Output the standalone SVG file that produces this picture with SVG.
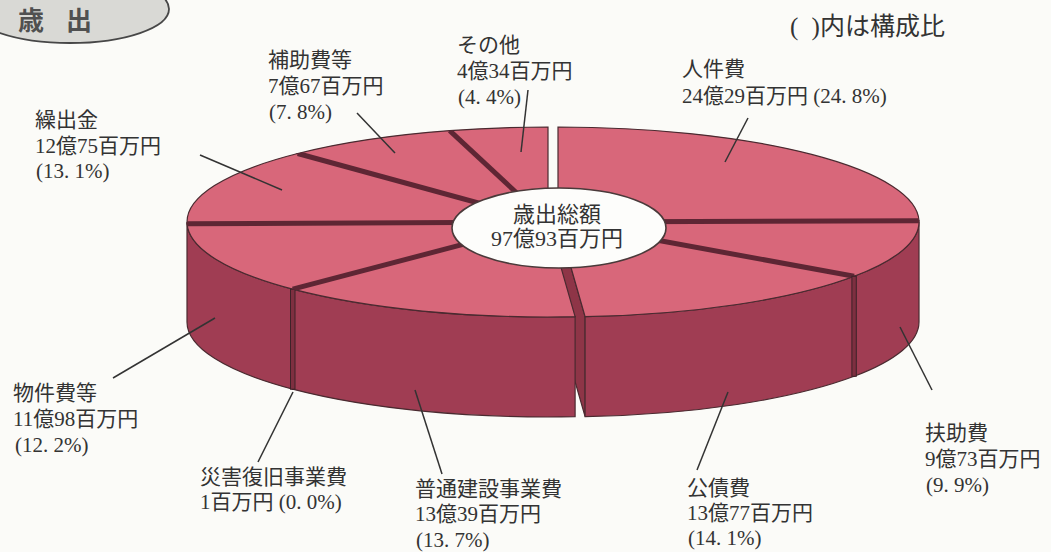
<svg xmlns="http://www.w3.org/2000/svg" width="1051" height="552" viewBox="0 0 1051 552">
<defs>
<style>
.top{fill:#d8677a;stroke:#4a2a30;stroke-width:1.2}
.side{fill:#a03d53;stroke:#4a2a30;stroke-width:1.2}
.cut{fill:#8e3547;stroke:#4a2a30;stroke-width:1.2}
.band{stroke:#5e2634;stroke-width:5;fill:none}
.sband{fill:#7e2f40;stroke:#3e2228;stroke-width:1}
.lbl{font-family:'Liberation Serif','Noto Sans CJK JP',serif;font-size:21px;fill:#333}
.lead{stroke:#333;stroke-width:1.5;fill:none}
</style>
<clipPath id="cL"><ellipse cx="548" cy="222" rx="361" ry="95"/></clipPath>
<clipPath id="cR"><ellipse cx="558" cy="222" rx="361" ry="95"/></clipPath>
</defs>
<rect width="1051" height="552" fill="#fbfbf8"/>

<g id="title">
<ellipse cx="70" cy="9" rx="99" ry="34" fill="#d9d9d5" stroke="#474747" stroke-width="1.8"/>
<text x="18" y="30" font-family="'Noto Sans CJK JP',sans-serif" font-size="26" font-weight="bold" fill="#505050" word-spacing="16">歳 出</text>
</g>
<g id="note">
<text x="790" y="35" class="lbl" style="font-size:25px;word-spacing:7px">( )内は構成比</text>
</g>

<g id="pie">
<path id="cut-face" class="cut" d="M558,222 L585.1,316.7 L585.1,416.7 L558,322 Z"/>
<g id="slice-jinkenhi">
<path class="top" d="M558,222 L558,127 A361 95 0 0 1 919,220.8 Z"/>
</g>
<g id="slice-fujohi">
<path class="side" d="M919,222 A361 95 0 0 1 854.1,276.3 L854.1,376.3 A361 95 0 0 0 919,322 Z"/>
<path class="top" d="M558,222 L919,220.8 A361 95 0 0 1 854.1,276.3 Z"/>
</g>
<g id="slice-kosaihi">
<path class="side" d="M854.1,276.3 A361 95 0 0 1 585.1,316.7 L585.1,416.7 A361 95 0 0 0 854.1,376.3 Z"/>
<path class="top" d="M558,222 L854.1,276.3 A361 95 0 0 1 585.1,316.7 Z"/>
</g>
<g id="slice-futsukensetsu">
<path class="side" d="M575.1,316.7 A361 95 0 0 1 292.7,289.2 L292.7,389.2 A361 95 0 0 0 575.1,416.7 Z"/>
<path class="top" d="M548,222 L575.1,316.7 A361 95 0 0 1 292.7,289.2 Z"/>
</g>
<g id="slice-bukkenhi">
<path class="side" d="M292.7,289.2 A361 95 0 0 1 187,222 L187,322 A361 95 0 0 0 292.7,389.2 Z"/>
<path class="top" d="M548,222 L292.7,289.2 A361 95 0 0 1 187.1,223.8 Z"/>
</g>
<g id="slice-kuridashikin">
<path class="top" d="M548,222 L187.1,223.8 A361 95 0 0 1 297.7,153.5 Z"/>
</g>
<g id="slice-hojohi">
<path class="top" d="M548,222 L297.7,153.5 A361 95 0 0 1 449.7,130.6 Z"/>
</g>
<g id="slice-sonota">
<path class="top" d="M548,222 L449.7,130.6 A361 95 0 0 1 548,127 Z"/>
</g>
<g id="slice-saigai">
<rect class="sband" x="290.5" y="289.2" width="4.5" height="100"/>
</g>
<g id="separators">
<g clip-path="url(#cR)">
<line class="band" x1="558" y1="222" x2="919" y2="220.8"/>
<line class="band" x1="558" y1="222" x2="854.1" y2="276.3"/>
</g>
<g clip-path="url(#cL)">
<line class="band" x1="548" y1="222" x2="292.7" y2="289.2"/>
<line class="band" x1="548" y1="222" x2="187.1" y2="223.8"/>
<line class="band" x1="548" y1="222" x2="297.7" y2="153.5"/>
<line class="band" x1="548" y1="222" x2="449.7" y2="130.6"/>
</g>
<rect class="sband" x="851.9" y="276.3" width="4.4" height="100"/>
</g>
</g>

<g id="center">
<ellipse cx="559" cy="228" rx="107" ry="40" fill="#fdfdfb" stroke="#4a3a3a" stroke-width="1.6"/>
<text x="557" y="222" class="lbl" text-anchor="middle" style="font-size:22px">歳出総額</text>
<text x="557" y="246" class="lbl" text-anchor="middle" style="font-size:22px">97億93百万円</text>
</g>

<g id="connectors">
<line class="lead" x1="200" y1="155" x2="282" y2="190"/>
<line class="lead" x1="357" y1="113" x2="395" y2="153"/>
<line class="lead" x1="528" y1="90" x2="521" y2="152"/>
<line class="lead" x1="748" y1="118" x2="725" y2="162"/>
<line class="lead" x1="932" y1="390" x2="900" y2="327"/>
<line class="lead" x1="697" y1="470" x2="728" y2="392"/>
<line class="lead" x1="442" y1="474" x2="415" y2="390"/>
<line class="lead" x1="258" y1="462" x2="293" y2="392"/>
<line class="lead" x1="113" y1="378" x2="215" y2="318"/>
</g>

<g id="labels">
<g id="lbl-kuridashikin"><text class="lbl" x="35" y="127">繰出金</text><text class="lbl" x="35" y="152.5">12億75百万円</text><text class="lbl" x="36" y="178">(13. 1%)</text></g>
<g id="lbl-hojohi"><text class="lbl" x="268" y="67">補助費等</text><text class="lbl" x="268" y="93">7億67百万円</text><text class="lbl" x="269" y="119">(7. 8%)</text></g>
<g id="lbl-sonota"><text class="lbl" x="457" y="52">その他</text><text class="lbl" x="457" y="78">4億34百万円</text><text class="lbl" x="458" y="104">(4. 4%)</text></g>
<g id="lbl-jinkenhi"><text class="lbl" x="682" y="76">人件費</text><text class="lbl" x="682" y="103">24億29百万円 (24. 8%)</text></g>
<g id="lbl-fujohi"><text class="lbl" x="925" y="440">扶助費</text><text class="lbl" x="925" y="466">9億73百万円</text><text class="lbl" x="926" y="492">(9. 9%)</text></g>
<g id="lbl-kosaihi"><text class="lbl" x="687" y="495">公債費</text><text class="lbl" x="687" y="520">13億77百万円</text><text class="lbl" x="688" y="545">(14. 1%)</text></g>
<g id="lbl-futsukensetsu"><text class="lbl" x="415" y="496">普通建設事業費</text><text class="lbl" x="415" y="521">13億39百万円</text><text class="lbl" x="416" y="547">(13. 7%)</text></g>
<g id="lbl-saigai"><text class="lbl" x="200" y="484">災害復旧事業費</text><text class="lbl" x="200" y="509">1百万円 (0. 0%)</text></g>
<g id="lbl-bukkenhi"><text class="lbl" x="13" y="400">物件費等</text><text class="lbl" x="13" y="426">11億98百万円</text><text class="lbl" x="15" y="452">(12. 2%)</text></g>
</g>
</svg>
